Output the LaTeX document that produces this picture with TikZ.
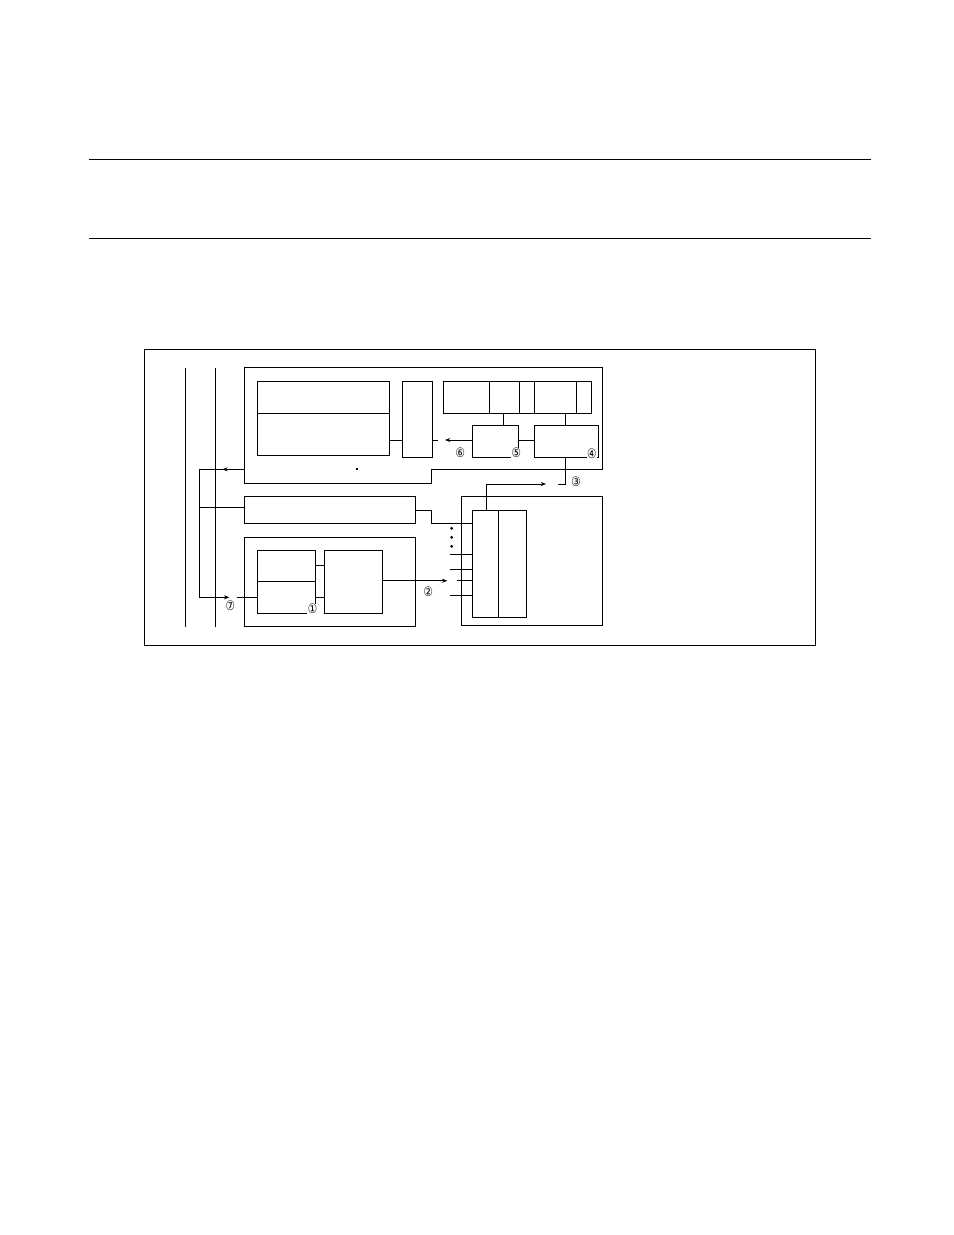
\documentclass[tikz,border=0pt]{standalone}
\usepackage{fontspec}
\usepackage{graphicx}
\newfontfamily\circfont{DejaVu Sans}
\usetikzlibrary{arrows.meta,fit}
\begin{document}
\begin{tikzpicture}[x=0.6415pt,y=-0.6415pt,line width=0.6pt,
  box/.style={draw, inner sep=0pt, outer sep=0pt},
  arr/.style={-{Stealth[length=3.4pt,width=2.6pt]}},
  rulestyle/.style={line width=0.85pt},
  num/.style={fill=white, inner sep=0.2pt, font=\circfont\fontsize{8.4}{9}\selectfont}]
\useasboundingbox (0,0) rectangle (954,1235);

% horizontal rules
\coordinate (r1a) at (89,159.3); \coordinate (r1b) at (870.7,159.3);
\coordinate (r2a) at (89,238.7); \coordinate (r2b) at (870.7,238.7);
\draw[rulestyle] (r1a) -- (r1b);
\draw[rulestyle] (r2a) -- (r2b);

% helper coordinates (levels)
\coordinate (y413) at (0,413);
\coordinate (y440) at (0,440);
\coordinate (y469) at (0,469.3);
\coordinate (y484) at (0,484);
\coordinate (y507) at (0,507.3);
\coordinate (y511) at (0,510.7);
\coordinate (y523) at (0,523.3);
\coordinate (y554) at (0,554);
\coordinate (y569) at (0,569.3);
\coordinate (y581) at (0,580.7);
\coordinate (y595) at (0,595.3);
\coordinate (y565) at (0,565.3);
\coordinate (y597) at (0,597.3);
\coordinate (xR1) at (489.3,0);
\coordinate (xR2) at (519.3,0);
\coordinate (xR3) at (534.3,0);
\coordinate (xR4) at (576.7,0);
\coordinate (xD) at (503.3,0);
\coordinate (xE) at (565.7,0);
\coordinate (xH) at (486.7,0);
\coordinate (xHd) at (498.3,0);

% outer frame
\node[box, fit={(144.5,349) (815.7,645)}] (frame) {};

% bus lines
\coordinate (b1t) at (185.3,368); \coordinate (b1b) at (185.3,626.7);
\coordinate (b2t) at (215.7,368); \coordinate (b2b) at (215.7,626.7);
\draw (b1t) -- (b1b);
\draw (b2t) -- (b2b);

% upper unit outline
\coordinate (pNW) at (244.7,367.3);
\coordinate (pNE) at (602.7,367.3);
\coordinate (pE) at (602.7,469.3);
\coordinate (pS1) at (431.7,469.3);
\coordinate (pS2) at (431.7,483.3);
\coordinate (pSW) at (244.7,483.3);
\coordinate (pL) at (244.7,469.3);
\draw (pNW) -- (pNE) -- (pE) -- (pS1) -- (pS2) -- (pSW) -- cycle;

% boxes inside upper unit
\node[box, fit={(257.3,381.3) (389.7,455.3)}] (A) {};
\draw (A.west |- y413) -- (A.east |- y413);
\node[box, fit={(402.3,381.3) (432.7,457.3)}] (B) {};
\node[box, fit={(443.3,381.3) (591.3,413)}] (R) {};
\draw (xR1 |- R.north) -- (xR1 |- R.south);
\draw (xR2 |- R.north) -- (xR2 |- R.south);
\draw (xR3 |- R.north) -- (xR3 |- R.south);
\draw (xR4 |- R.north) -- (xR4 |- R.south);
\node[box, fit={(472.3,425.3) (518.3,457.3)}] (D) {};
\node[box, fit={(534.3,425.3) (598.3,457.3)}] (E) {};

% connectors in upper unit
\draw (A.east |- y440) -- (B.west |- y440);
\coordinate (d6) at (437.5,440);
\draw (B.east |- y440) -- (d6);
\coordinate (t6) at (445,440);
\draw[arr] (D.west |- y440) -- (t6);
\draw (xD |- R.south) -- (xD |- D.north);
\draw (xE |- R.south) -- (xE |- E.north);
\draw (D.east |- y440) -- (E.west |- y440);
\coordinate (e3) at (558,484);
\draw (xE |- E.south) -- (xE |- y484) -- (e3);
\coordinate (t3) at (546,484);
\draw[arr] (xH |- y484) -- (t3);

% small dot
\fill (356.2,467.9) rectangle (357.8,469.5);

% long box F
\node[box, fit={(244.7,496) (415.3,523.3)}] (F) {};

% lower-left unit G
\node[box, fit={(244.7,537.3) (415.3,626)}] (G) {};
\node[box, fit={(257.3,550.3) (315.3,613.3)}] (G1) {};
\draw (G1.west |- 0,581) -- (G1.east |- 0,581);
\node[box, fit={(324.3,550.3) (382.3,613.3)}] (G2) {};
\draw (G1.east |- y565) -- (G2.west |- y565);
\draw (G1.east |- y597) -- (G2.west |- y597);

% lower-right unit H
\node[box, fit={(461.3,496) (602.7,625.3)}] (H) {};
\node[box, fit={(472.3,510) (526.7,617.3)}] (Hi) {};
\draw (xHd |- Hi.north) -- (xHd |- Hi.south);
\draw (xH |- y484) -- (xH |- Hi.north);

% left feedback path
\coordinate (lc1) at (199.3,469.3);
\coordinate (lc2) at (199.3,597.3);
\draw (pL) -- (lc1) -- (lc2);
\coordinate (t0) at (222.3,469.3);
\draw[arr] (pL) -- (t0);
\coordinate (t7) at (229.3,597.3);
\draw[arr] (lc2) -- (t7);
\coordinate (s7) at (236.7,597.3);
\draw (s7) -- (G1.west |- y597);
\draw (lc1 |- y507) -- (F.west |- y507);

% F to H
\coordinate (fk1) at (431.7,510.7);
\coordinate (fk2) at (431.7,523.3);
\draw (F.east |- y511) -- (fk1) -- (fk2) -- (Hi.west |- y523);

% inputs to Hi
\fill (451.7,528.3) circle (1pt);
\fill (451.7,537.3) circle (1pt);
\fill (451.7,546.3) circle (1pt);
\coordinate (in1) at (450,554);
\coordinate (in2) at (450,569.3);
\coordinate (in4) at (450,595.3);
\draw (in1) -- (Hi.west |- y554);
\draw (in2) -- (Hi.west |- y569);
\draw (in4) -- (Hi.west |- y595);
\coordinate (t2) at (447.3,580.7);
\draw[arr] (G2.east |- y581) -- (t2);
\coordinate (s2) at (456.7,580.7);
\draw (s2) -- (Hi.west |- y581);

% circled labels
\node[num] (n1) at (312.5,608.8) {\scalebox{0.8}[1]{①}};
\node[num] (n2) at (428.3,592) {\scalebox{0.8}[1]{②}};
\node[num] (n3) at (576,481.5) {\scalebox{0.8}[1]{③}};
\node[num] (n4) at (591.7,454) {\scalebox{0.8}[1]{④}};
\node[num] (n5) at (516.3,453) {\scalebox{0.8}[1]{⑤}};
\node[num] (n6) at (460.3,452.5) {\scalebox{0.8}[1]{⑥}};
\node[num] (n7) at (230.3,605.5) {\scalebox{0.8}[1]{⑦}};
\end{tikzpicture}
\end{document}
